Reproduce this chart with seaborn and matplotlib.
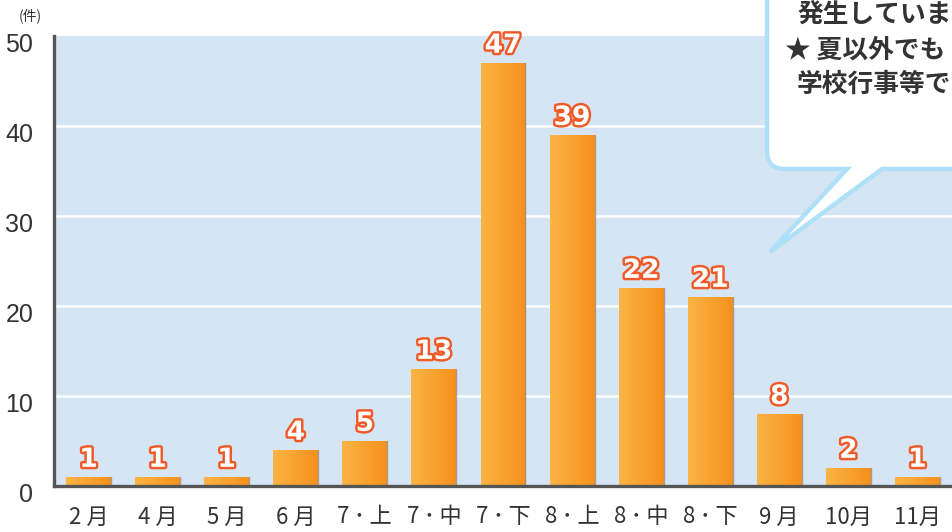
import numpy as np
import pandas as pd
import matplotlib
matplotlib.use("Agg")
import matplotlib.pyplot as plt
import seaborn as sns
from matplotlib.path import Path
from matplotlib.patches import PathPatch
import matplotlib.patheffects as pe
import matplotlib.transforms as mtransforms
from matplotlib.colors import LinearSegmentedColormap

categories = ["2 月", "4 月", "5 月", "6 月", "7\u2009･\u2009上", "7\u2009･\u2009中", "7\u2009･\u2009下",
              "8\u2009･\u2009上", "8\u2009･\u2009中", "8\u2009･\u2009下", "9 月", "10月", "11月"]
values = [1, 1, 1, 4, 5, 13, 47, 39, 22, 21, 8, 2, 1]
yticks = [0, 10, 20, 30, 40, 50]
unit_label = "(件)"
bubble_lines = ["発生していま", "★ 夏以外でも", "学校行事等で"]

sns.set_theme(style="white")
plt.rcParams['font.family'] = ['Noto Sans CJK JP', 'DejaVu Sans']

W, H = 952, 532
fig = plt.figure(figsize=(W / 100, H / 100), dpi=100)
ax = fig.add_axes([54 / W, 1 - 486 / H, 1 - 54 / W, (486 - 36) / H])
ax.set_facecolor("#D5E5F4")

df = pd.DataFrame({"cat": categories, "val": values})
sns.barplot(data=df, x="cat", y="val", ax=ax, width=0.65, color="#F7941D",
            saturation=1, zorder=3)

ax.set_xlim(-0.5, -0.5 + (W - 54) / 69.3)
ax.set_ylim(0, 50)
ax.set_yticks(yticks)
ax.set_xlabel("")
ax.set_ylabel("")

# grid
for y in yticks[1:-1]:
    ax.axhline(y, color="white", lw=1.8, zorder=1)

# gradient fill
cmap = LinearSegmentedColormap.from_list("og", ["#FBB445", "#F6911C"])
grad = np.linspace(0, 1, 64).reshape(1, -1)
for p in ax.patches:
    x0, y0 = p.get_x(), p.get_y()
    w, h = p.get_width(), p.get_height()
    im = ax.imshow(grad, extent=[x0, x0 + w, y0, y0 + h], aspect="auto",
                   cmap=cmap, zorder=3, interpolation="bilinear")
    im.set_clip_path(p)
    p.set_facecolor("none")
    p.set_edgecolor("none")
    ax.plot([x0 + w, x0 + w], [y0, y0 + h], color="#9a8a7a", lw=1.0, zorder=4, alpha=0.8)

# data labels
lbls = ax.bar_label(ax.containers[0], labels=[str(v) for v in values], padding=3,
                    fontsize=19, fontweight="bold", color="white",
                    family=["DejaVu Sans"], zorder=5)
for t in lbls:
    t.set_path_effects([pe.Stroke(linewidth=3.5, foreground="#F05A28"), pe.Normal()])

# spines & ticks
for s in ["top", "right"]:
    ax.spines[s].set_visible(False)
for s in ["left", "bottom"]:
    ax.spines[s].set_color("#555555")
    ax.spines[s].set_linewidth(2.4)
    ax.spines[s].set_zorder(6)

ax.tick_params(axis="y", length=0, pad=15, labelsize=18, labelcolor="#333333")
ax.tick_params(axis="x", which="major", length=0, pad=14, labelsize=16, labelcolor="#333333")
ax.set_xticks(np.arange(len(categories)) + 0.5, minor=True)
ax.tick_params(axis="x", which="minor", direction="in", length=9, width=2, color="#555555")
for t in ax.get_xticklabels():
    t.set_family(["Noto Sans CJK JP", "DejaVu Sans"])
off = mtransforms.ScaledTranslation(0, -6 / 100, fig.dpi_scale_trans)
for t in ax.get_yticklabels():
    t.set_family(["Liberation Sans"])
    t.set_transform(t.get_transform() + off)

fig.text(30 / W, 1 - 16 / H, unit_label, fontsize=10, color="#333333",
         ha="center", va="center")

# speech bubble overlay in pixel coordinates
ov = fig.add_axes([0, 0, 1, 1], zorder=10)
ov.set_xlim(0, W)
ov.set_ylim(H, 0)
ov.axis("off")
ov.patch.set_alpha(0)

L, B, r = 767, 169, 18
verts = [
    (847, B), (L + r, B), (L, B), (L, B - r), (L, -20), (W + 20, -20), (W + 20, B),
    (882, B), (770, 252), (847, B),
]
codes = [Path.MOVETO, Path.LINETO, Path.CURVE3, Path.CURVE3, Path.LINETO, Path.LINETO,
         Path.LINETO, Path.LINETO, Path.LINETO, Path.CLOSEPOLY]
ov.add_patch(PathPatch(Path(verts, codes), facecolor="white", edgecolor="#AEE0F7",
                       lw=3.2, joinstyle="miter"))
ys = [15, 50, 84]
xs = [797, 785, 797]
for txt, x, y in zip(bubble_lines, xs, ys):
    ov.text(x, y, txt, fontsize=18.5, fontweight="bold", color="#333333",
            ha="left", va="center", family=["Noto Sans CJK JP", "DejaVu Sans"])

fig.savefig("out.png", dpi=100)
